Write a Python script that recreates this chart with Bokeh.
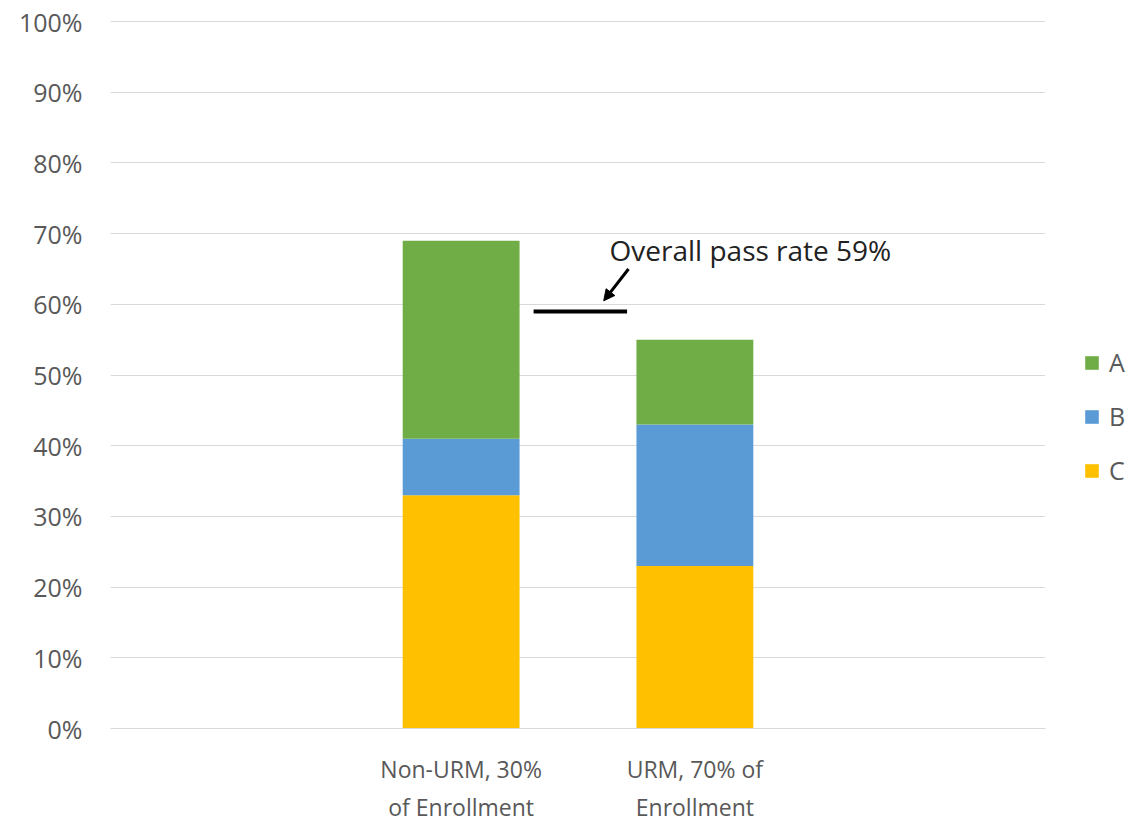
from bokeh.plotting import figure
from bokeh.layouts import row
from bokeh.models import (Range1d, FixedTicker, Legend, LegendItem, Arrow, NormalHead,
                          ColumnDataSource, Label)
from bokeh.embed import file_html
from bokeh.resources import INLINE

# ---- data ----
categories = ["Non-URM, 30%\nof Enrollment", "URM, 70% of\nEnrollment"]
grade_c = [33, 23]
grade_b = [8, 20]
grade_a = [28, 12]
overall_pass_rate = 59
annotation_text = "Overall pass rate 59%"
y_ticks = list(range(0, 101, 10))
legend_labels = ["A", "B", "C"]

colors = {"A": "#70AD47", "B": "#5B9BD5", "C": "#FFC000"}
FONT = "Open Sans"
TXT = "#595959"

xs = [i + 1.5 for i in range(len(categories))]
src = ColumnDataSource(dict(x=xs, C=grade_c, B=grade_b, A=grade_a))

p = figure(width=1045, height=826, output_backend="svg", toolbar_location=None,
           x_range=Range1d(0, 4), y_range=Range1d(0, 100.15),
           min_border_left=110, min_border_right=0, min_border_top=20, min_border_bottom=98)
p.outline_line_color = None

rs = p.vbar_stack(["C", "B", "A"], x="x", width=0.5, source=src,
                  color=[colors["C"], colors["B"], colors["A"]], line_color=None)

# axes
p.yaxis.ticker = FixedTicker(ticks=y_ticks)
p.yaxis.major_label_overrides = {t: f"{t}%" for t in y_ticks}
p.xaxis.ticker = FixedTicker(ticks=xs)
p.xaxis.major_label_overrides = {x: c for x, c in zip(xs, categories)}
for ax in (p.xaxis, p.yaxis):
    ax.major_tick_line_color = None
    ax.minor_tick_line_color = None
    ax.major_tick_out = 0
    ax.major_label_text_font = FONT
    ax.major_label_text_color = TXT
p.yaxis.major_label_text_font_size = "25px"
p.xaxis.major_label_text_font_size = "23px"
p.yaxis.axis_line_color = None
p.xaxis.axis_line_color = "#D9D9D9"
p.yaxis.major_label_standoff = 28
p.xaxis.major_label_standoff = 24
p.xgrid.grid_line_color = None
p.ygrid.grid_line_color = "#D9D9D9"
p.ygrid.grid_line_width = 1

# overall pass rate marker
mid = (xs[0] + xs[1]) / 2
p.segment(x0=[mid - 0.19], x1=[mid + 0.21], y0=[overall_pass_rate], y1=[overall_pass_rate],
          line_color="black", line_width=4)
p.add_layout(Arrow(end=NormalHead(size=11, fill_color="black", line_color="black"),
                   x_start=mid + 0.216, y_start=overall_pass_rate + 6.0,
                   x_end=mid + 0.11, y_end=overall_pass_rate + 1.5,
                   line_color="black", line_width=3))
p.add_layout(Label(x=mid + 0.135, y=overall_pass_rate + 8.65, text=annotation_text,
                   text_font=FONT, text_font_size="28px", text_color="#222222",
                   text_baseline="middle"))

# ---- legend panel ----
lg = figure(width=89, height=826, output_backend="svg", toolbar_location=None,
            x_axis_type=None, y_axis_type=None, x_range=Range1d(0, 1), y_range=Range1d(0, 1),
            min_border_left=0, min_border_right=0, min_border_top=0, min_border_bottom=0)
lg.outline_line_color = None
items = []
for lab in legend_labels:
    # proxy glyph kept outside the visible range; it only provides the legend swatch
    r = lg.vbar(x=[-5], top=[-5], bottom=[-6], width=0.5, color=colors[lab], line_color=None)
    items.append(LegendItem(label=lab, renderers=[r]))
legend = Legend(items=items, location=(38, 241), orientation="vertical",
                glyph_width=17, glyph_height=17, label_standoff=9, spacing=20,
                padding=0, margin=0, border_line_alpha=0, background_fill_alpha=0,
                label_text_font=FONT, label_text_font_size="25px", label_text_color=TXT)
lg.add_layout(legend)

layout = row(p, lg, spacing=0)
open("out.html", "w").write(file_html(layout, INLINE))
